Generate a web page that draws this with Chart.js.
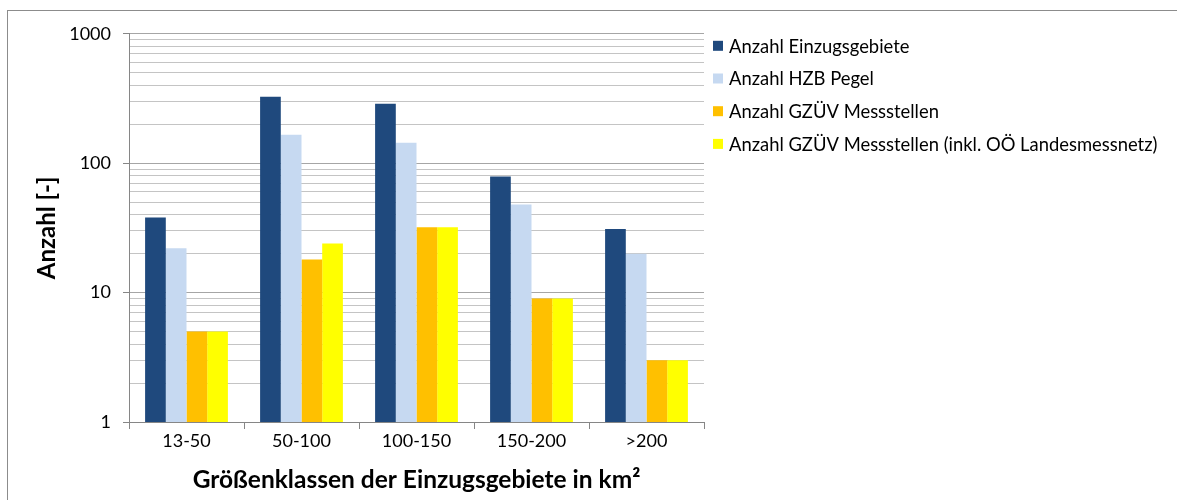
<!DOCTYPE html>
<html><head><meta charset="utf-8">
<script src="https://cdn.jsdelivr.net/npm/chart.js@4"></script>
<style>
html,body{margin:0;padding:0;background:#fff;overflow:hidden;}
#frame{position:absolute;left:7px;top:10px;width:1250px;height:560px;border:1px solid #8c8c8c;}
#wrap{position:absolute;left:8px;top:11px;width:1169px;height:489px;}
</style></head><body>
<div id="frame"></div>
<div id="wrap"><canvas id="c"></canvas></div>
<script>
// ---- data ----
const categories = ['13-50', '50-100', '100-150', '150-200', '>200'];
const anzahlEinzugsgebiete = [38, 326, 288, 79, 31];
const anzahlHzbPegel = [22, 166, 144, 48, 20];
const anzahlGzuev = [5, 18, 32, 9, 3];
const anzahlGzuevOoe = [5, 24, 32, 9, 3];
const seriesLabels = [
  'Anzahl Einzugsgebiete',
  'Anzahl HZB Pegel',
  'Anzahl GZÜV Messstellen',
  'Anzahl GZÜV Messstellen (inkl. OÖ Landesmessnetz)'
];
const yTickValues = [1, 10, 100, 1000];
const yTickLabels = ['1', '10', '100', '1000'];
const xTitle = 'Größenklassen der Einzugsgebiete in km²';
const yTitle = 'Anzahl [-]';

// ---- styles ----
const colors = ['#1f497d', '#c6d9f1', '#ffc000', '#ffff00'];
const FONT = 'Lato, "Liberation Sans", sans-serif';

const allGridValues = [];
for (let d = 0; d < yTickValues.length - 1; d++) {
  for (let m = 1; m <= 9; m++) allGridValues.push(m * yTickValues[d]);
}
allGridValues.push(yTickValues[yTickValues.length - 1]);

const sideLegend = {
  id: 'sideLegend',
  afterDraw(chart) {
    const ctx = chart.ctx;
    const x0 = chart.chartArea.right + 9;
    const y0 = chart.chartArea.top + 12;
    ctx.save();
    ctx.font = '18.4px ' + FONT;
    ctx.textBaseline = 'middle';
    ctx.textAlign = 'left';
    chart.data.datasets.forEach((ds, i) => {
      const cy = y0 + i * 32.7;
      ctx.fillStyle = ds.backgroundColor;
      ctx.fillRect(x0, cy - 5, 10, 10);
      ctx.fillStyle = '#000';
      ctx.fillText(ds.label, x0 + 16, cy + 1);
    });
    ctx.restore();
  }
};

const series = [anzahlEinzugsgebiete, anzahlHzbPegel, anzahlGzuev, anzahlGzuevOoe];

new Chart(document.getElementById('c'), {
  type: 'bar',
  data: {
    labels: categories,
    datasets: series.map((s, i) => ({
      label: seriesLabels[i],
      data: s,
      backgroundColor: colors[i],
      borderWidth: 0,
      categoryPercentage: 0.72,
      barPercentage: 1.0
    }))
  },
  options: {
    responsive: true,
    maintainAspectRatio: false,
    animation: false,
    layout: { padding: { top: 22, right: 473, left: 0, bottom: 0 } },
    plugins: { legend: { display: false }, tooltip: { enabled: false } },
    scales: {
      x: {
        afterFit(scale) { scale.height = 78; },
        grid: { drawOnChartArea: false, drawTicks: true, tickLength: 7, color: '#868686', offset: true },
        border: { color: '#868686' },
        ticks: { color: '#000', font: { family: FONT, size: 18 }, padding: 1 },
        title: { display: true, text: xTitle, color: '#000', font: { family: FONT, size: 24.5, weight: 'bold' }, padding: { top: 0, bottom: 5 } }
      },
      y: {
        type: 'logarithmic',
        min: 1, max: 1000,
        afterFit(scale) { scale.width = 121; },
        afterBuildTicks(scale) { scale.ticks = allGridValues.map(v => ({ value: v })); },
        grid: {
          color: (c) => yTickValues.includes(c.tick && c.tick.value) ? '#a6a6a6' : '#c4c4c4',
          tickColor: (c) => yTickValues.includes(c.tick && c.tick.value) ? '#868686' : 'rgba(0,0,0,0)',
          tickLength: 6,
          lineWidth: 1
        },
        border: { color: '#868686' },
        ticks: {
          autoSkip: false,
          color: '#000',
          font: { family: FONT, size: 18 },
          padding: 12,
          callback: (v) => { const i = yTickValues.indexOf(v); return i >= 0 ? yTickLabels[i] : ''; }
        },
        title: { display: true, text: yTitle, color: '#000', font: { family: FONT, size: 24, weight: 'bold' }, padding: { top: 25, bottom: 0 } }
      }
    }
  },
  plugins: [sideLegend]
});
</script>
</body></html>
